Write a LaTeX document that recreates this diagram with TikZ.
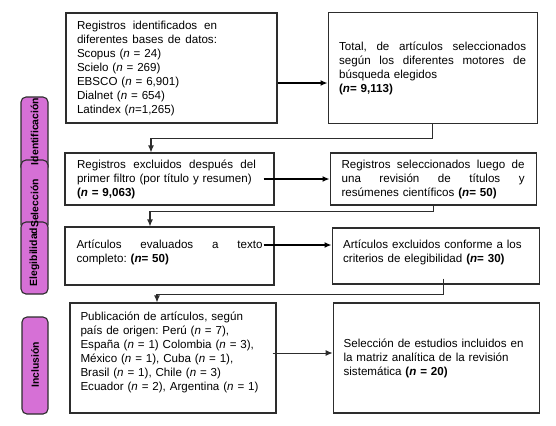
\documentclass[tikz,border=0pt]{standalone}
\usepackage{fontspec}
\setmainfont{Liberation Sans}
\usepackage{tikz}
\usepackage{xcolor}
\usetikzlibrary{arrows.meta,positioning,calc}
\definecolor{prismaorchid}{RGB}{214,112,214}
\definecolor{prismaline}{RGB}{45,45,45}
\newcommand{\spreadline}[2]{\makebox[#1][s]{\spaceskip=0pt plus 1fil\relax #2}}
\frenchspacing

\begin{document}
\begin{tikzpicture}[x=1bp, y=-1bp, >={Latex[length=7bp,width=6bp]}, node distance=55bp,
  every node/.style={font=\fontsize{11.6bp}{14bp}\selectfont\frenchspacing},
  box/.style={draw=prismaline, line width=1.1bp, align=left, inner ysep=3bp},
  tab/.style={draw=prismaline, fill=prismaorchid, line width=1.1bp, rounded corners=5bp, minimum width=27bp, inner sep=0pt},
  tablabel/.style={rotate=90, font=\fontsize{10.4bp}{12bp}\selectfont\bfseries},
  flow/.style={->, line width=1.1bp, draw=prismaline},
  bigflow/.style={->, line width=1.7bp, draw=black}]
\useasboundingbox (0,0) rectangle (556,425);

% fases (pestanas laterales)
\node[tab, minimum height=75bp] (tabid) at (34.5,134.5) {};
\node[tab, minimum height=70bp] (tabsel) at (34.5,195) {};
\node[tab, minimum height=72bp] (tabeleg) at (34.5,258) {};
\node[tab, minimum height=97bp, minimum width=26bp] (tabinc) at (35,365.5) {};
\node[tablabel] (lblid) at (34.5,131.5) {Identificación};
\node[tablabel] (lblsel) at (34.5,203.5) {Selección};
\node[tablabel] (lbleleg) at (34.5,257) {Elegibilidad};
\node[tablabel] (lblinc) at (35,365) {Inclusión};

% cajas
\node[box, text width=189bp, inner xsep=11bp, minimum height=110bp] (reg) at (171.5,68)
  {\spreadline{140bp}{Registros identificados en}\\
   \spreadline{140bp}{diferentes bases de datos:}\\
   Scopus (\textit{n} = 24)\\
   Scielo (\textit{n} = 269)\\
   EBSCO (\textit{n} = 6,901)\\
   Dialnet (\textit{n} = 654)\\
   Latindex (\textit{n}=1,265)};
\node[box, text width=187bp, inner xsep=11bp, minimum height=111bp, right=50bp of reg] (tot)
  {\spreadline{187bp}{Total, de artículos seleccionados}\\
   \spreadline{187bp}{según los diferentes motores de}\\
   búsqueda elegidos\\
   \textbf{(\textit{n}= 9,113)}};
\node[box, text width=185bp, inner xsep=12bp, minimum height=52bp] (exc) at (169.5,179)
  {\spreadline{179bp}{Registros excluidos después del}\\
   primer filtro (por título y resumen)\\
   \textbf{(\textit{n} = 9,063)}};
\node[box, text width=183bp, inner xsep=11.5bp, minimum height=52bp, right=of exc] (sel)
  {\spreadline{183bp}{Registros seleccionados luego de}\\
   \spreadline{183bp}{una revisión de títulos y}\\
   resúmenes científicos \textbf{(\textit{n}= 50)}};
\node[box, text width=186bp, inner xsep=11.5bp, minimum height=58bp] (eva) at (169.5,256)
  {\spreadline{186bp}{Artículos evaluados a texto}\\
   completo: \textbf{(\textit{n}= 50)}\\[-4bp]\mbox{}};
\node[box, text width=185bp, inner xsep=11bp, minimum height=56bp, right=57bp of eva] (cri)
  {Artículos excluidos conforme a los\\
   criterios de elegibilidad \textbf{(\textit{n}= 30)}\\[-4bp]\mbox{}};
\node[box, text width=185bp, inner xsep=10.5bp, minimum height=110bp] (pub) at (173,358)
  {Publicación de artículos, según\\
   país de origen: Perú (\textit{n} = 7),\\
   España (\textit{n} = 1) Colombia (\textit{n} = 3),\\
   México (\textit{n} = 1), Cuba (\textit{n} = 1),\\
   Brasil (\textit{n} = 1), Chile (\textit{n} = 3)\\
   Ecuador (\textit{n} = 2), Argentina (\textit{n} = 1)\\
   \mbox{}};
\node[box, text width=185bp, inner xsep=10.5bp, minimum height=110bp, right=56bp of pub] (inc)
  {Selección de estudios incluidos en\\
   la matriz analítica de la revisión\\
   sistemática \textbf{(\textit{n} = 20)}};

% conectores
\draw[bigflow] ([yshift=-15bp]reg.east) -- ([yshift=-15bp]reg.east -| tot.west);
\draw[flow] (tot.south) -- ++(0,14) -| ([xshift=-18.5bp]exc.north);
\draw[bigflow] ([xshift=-11bp]exc.east) -- (exc.east -| sel.west);
\draw[flow] (sel.south) -- ++(0,6) -| ([xshift=-19.5bp]eva.north);
\draw[bigflow] ([xshift=-11bp,yshift=11bp]eva.east) -- ([yshift=11bp]eva.east -| cri.west);
\draw[flow] ([xshift=8bp,yshift=6bp]cri.south) -- ++(0,16) -| ([xshift=-16bp]pub.north);
\draw[flow, line width=0.9bp] ([xshift=-4bp,yshift=5bp]pub.east) -- ([yshift=5bp]pub.east -| inc.west);
\end{tikzpicture}
\end{document}
